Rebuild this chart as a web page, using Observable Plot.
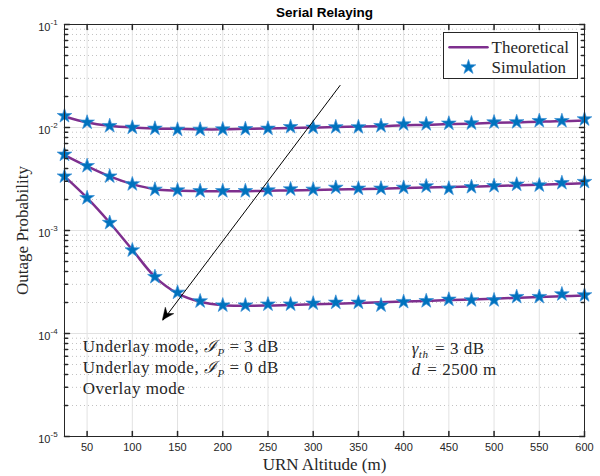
<!DOCTYPE html>
<html><head><meta charset="utf-8">
<script src="https://cdn.jsdelivr.net/npm/d3@7"></script>
<script src="https://cdn.jsdelivr.net/npm/@observablehq/plot@0.6"></script>
<style>body{margin:0;background:#fff} svg{display:block}</style>
</head><body><div id="chart"></div>
<script>
// ---- data ----
const altitude = [25,50,75,100,125,150,175,200,225,250,275,300,325,350,375,400,425,450,475,500,525,550,575,600];
const seriesNames = ["Underlay mode, IP = 3 dB", "Underlay mode, IP = 0 dB", "Overlay mode"];
const simUnderlay3 = [0.01297,0.01120,0.01037,0.01000,0.00978,0.00956,0.00956,0.00962,0.00968,0.00978,0.01014,0.01000,0.01010,0.01010,0.01037,0.01077,0.01080,0.01095,0.01100,0.01125,0.01130,0.01160,0.01160,0.01205];
const simUnderlay0 = [0.00547,0.00424,0.00336,0.00282,0.00250,0.00246,0.00242,0.00242,0.00242,0.00246,0.00252,0.00250,0.00261,0.00256,0.00256,0.00261,0.00269,0.00256,0.00265,0.00271,0.00280,0.00275,0.00290,0.00297];
const simOverlay   = [0.00336,0.00207,0.00119,0.000644,0.000355,0.000250,0.000206,0.000188,0.000188,0.000192,0.000192,0.000196,0.000200,0.000200,0.000188,0.000203,0.000207,0.000214,0.000211,0.000211,0.000227,0.000227,0.000241,0.000236];
const thUnderlay3  = [0.0128,0.0112,0.0104,0.0100,0.0098,0.0097,0.0096,0.0096,0.0097,0.0098,0.0099,0.0100,0.0101,0.0102,0.0103,0.0105,0.0106,0.0108,0.0109,0.0111,0.0112,0.0114,0.0115,0.0117];
const thUnderlay0  = [0.0054,0.0042,0.00335,0.00282,0.00252,0.00244,0.00241,0.00240,0.00241,0.00243,0.00245,0.00247,0.00250,0.00252,0.00255,0.00258,0.00261,0.00264,0.00267,0.00270,0.00274,0.00278,0.00282,0.00287];
const thOverlay    = [0.00335,0.00207,0.00119,0.00065,0.000355,0.000245,0.000203,0.000188,0.000186,0.000187,0.000189,0.000192,0.000195,0.000198,0.000201,0.000204,0.000207,0.000211,0.000214,0.000218,0.000222,0.000226,0.000230,0.000234];
const xTicks = [50,100,150,200,250,300,350,400,450,500,550,600];
const yMajor = [1e-1,1e-2,1e-3,1e-4,1e-5];
const yExponents = ["-1","-2","-3","-4","-5"];
const arrowStart = [330, 0.0258];
const arrowEnd = [133.8, 0.000134];
const legendLabels = ["Theoretical", "Simulation"];

// ---- tables ----
const sims = [simUnderlay3, simUnderlay0, simOverlay];
const ths = [thUnderlay3, thUnderlay0, thOverlay];
const simRows = sims.flatMap((s, k) => s.map((v, i) => ({series: seriesNames[k], x: altitude[i], y: v})));
const thRows = ths.flatMap((s, k) => s.map((v, i) => ({series: seriesNames[k], x: altitude[i], y: v})));
const yMinor = [];
for (let e = -5; e < -1; e++) for (let m = 2; m <= 9; m++) yMinor.push(m * Math.pow(10, e));

const purple = "#7E2F8E", blue = "#0072BD", axisColor = "#262626";
const serif = "'Liberation Serif', 'DejaVu Serif', serif";
const sans = "'Liberation Sans', Arial, sans-serif";
const tickShape = {draw(ctx, l) { ctx.moveTo(0, 0); ctx.lineTo(0, -l); }};

const plot = Plot.plot({
  width: 600, height: 476,
  marginLeft: 64, marginRight: 16, marginTop: 24, marginBottom: 40,
  x: {domain: [25, 600], axis: null},
  y: {type: "log", domain: [1e-5, 1e-1], axis: null},
  style: {background: "white"},
  marks: [
    Plot.ruleY(yMinor, {y: d => d, stroke: "#c2c2c2", strokeDasharray: "1,3", strokeWidth: 1}),
    Plot.ruleX(xTicks, {x: d => d, stroke: "#e2e2e2", strokeWidth: 1}),
    Plot.ruleY(yMajor, {y: d => d, stroke: "#e2e2e2", strokeWidth: 1}),
    Plot.line(thRows, {x: "x", y: "y", z: "series", stroke: purple, strokeWidth: 2.5, curve: "catmull-rom"}),
    Plot.dot(simRows, {x: "x", y: "y", symbol: "star", r: 4.6, fill: blue, stroke: "#3b8fd6", strokeWidth: 0.7}),
    Plot.link([0], {x1: () => arrowStart[0], y1: () => arrowStart[1], x2: () => arrowEnd[0], y2: () => arrowEnd[1], stroke: "black", strokeWidth: 1}),
    // ticks
    Plot.vector(xTicks, {x: d => d, frameAnchor: "bottom", length: 5, rotate: 0, anchor: "start", shape: tickShape, stroke: axisColor}),
    Plot.vector(xTicks, {x: d => d, frameAnchor: "top", length: 5, rotate: 180, anchor: "start", shape: tickShape, stroke: axisColor}),
    Plot.vector(yMajor, {y: d => d, frameAnchor: "left", length: 5, rotate: 90, anchor: "start", shape: tickShape, stroke: axisColor}),
    Plot.vector(yMajor, {y: d => d, frameAnchor: "right", length: 5, rotate: -90, anchor: "start", shape: tickShape, stroke: axisColor}),
    Plot.vector(yMinor, {y: d => d, frameAnchor: "left", length: 3, rotate: 90, anchor: "start", shape: tickShape, stroke: axisColor}),
    Plot.vector(yMinor, {y: d => d, frameAnchor: "right", length: 3, rotate: -90, anchor: "start", shape: tickShape, stroke: axisColor}),
    Plot.frame({stroke: axisColor, strokeWidth: 1}),
    // tick labels
    Plot.text(xTicks, {x: d => d, frameAnchor: "bottom", lineAnchor: "middle", dy: 10.7, text: d => String(d), fontSize: 11, fontFamily: sans, fill: axisColor}),
    Plot.text(yMajor, {y: d => d, frameAnchor: "left", lineAnchor: "middle", dx: -14, dy: 3, textAnchor: "end", text: () => "10", fontSize: 11, fontFamily: sans, fill: axisColor}),
    Plot.text(yMajor, {y: d => d, frameAnchor: "left", lineAnchor: "middle", dx: -14, dy: -2, textAnchor: "start", text: (d, i) => yExponents[i], fontSize: 8, fontFamily: sans, fill: axisColor}),
    // titles
    Plot.text(["Serial Relaying"], {frameAnchor: "top", lineAnchor: "middle", textAnchor: "middle", dy: -11.5, text: d => d, fontSize: 13.5, fontWeight: "bold", fontFamily: sans, fill: "black"}),
    Plot.text(["URN Altitude (m)"], {frameAnchor: "bottom", lineAnchor: "middle", textAnchor: "middle", dy: 28, text: d => d, fontSize: 17, fontFamily: serif, fill: axisColor, style: {letterSpacing: "0.7px"}}),
    Plot.text(["Outage Probability"], {frameAnchor: "left", lineAnchor: "middle", textAnchor: "middle", dx: -42, rotate: -90, text: d => d, fontSize: 17, fontFamily: serif, fill: axisColor}),
    // legend
    Plot.frame({insetLeft: 379, insetRight: 7, insetTop: 8, insetBottom: 358, fill: "white", stroke: axisColor, strokeWidth: 1}),
    Plot.vector([0], {frameAnchor: "top-right", dx: -135, dy: 22.7, length: 38, rotate: 90, anchor: "start", shape: tickShape, stroke: purple, strokeWidth: 2.5}),
    Plot.dot([0], {frameAnchor: "top-right", dx: -116, dy: 42.7, symbol: "star", r: 4.6, fill: blue, stroke: "#3b8fd6", strokeWidth: 0.7}),
    Plot.text([legendLabels[0]], {frameAnchor: "top-right", lineAnchor: "middle", dx: -93, dy: 22.7, textAnchor: "start", text: d => d, fontSize: 17, fontFamily: serif, fill: axisColor}),
    Plot.text([legendLabels[1]], {frameAnchor: "top-right", lineAnchor: "middle", dx: -93, dy: 42.7, textAnchor: "start", text: d => d, fontSize: 17, fontFamily: serif, fill: axisColor})
  ]
});
document.getElementById("chart").appendChild(plot);

const sx = plot.scale("x"), sy = plot.scale("y");
const svg = d3.select(plot);

// ---- filled arrow head at the arrow's end, placed through the plot's scales ----
{
  const x1 = sx.apply(arrowStart[0]), y1 = sy.apply(arrowStart[1]);
  const x2 = sx.apply(arrowEnd[0]), y2 = sy.apply(arrowEnd[1]);
  const a = Math.atan2(y1 - y2, x1 - x2);
  const L = 13, w = 0.42, notch = 8;
  const p = (len, ang) => [x2 + len * Math.cos(a + ang), y2 + len * Math.sin(a + ang)];
  const b1 = p(L, w), b2 = p(L, -w), n = p(notch, 0);
  svg.append("path").attr("d", `M${x2},${y2}L${b1}L${n}L${b2}Z`).attr("fill", "black").attr("stroke", "black").attr("stroke-width", 0.5);
}

// ---- rich-text annotations (subscripts) ----
const ann = svg.append("g").attr("font-family", serif).attr("font-size", 17).attr("fill", axisColor).attr("text-anchor", "start").style("letter-spacing", "0.5px");
const ax = sx.apply(45.6);
const modeY = [7.36e-5, 4.6e-5, 2.88e-5];
function addMode(t, i) {
  const el = ann.append("text").attr("x", ax).attr("y", sy.apply(modeY[i]) + 5);
  if (i < 2) {
    el.append("tspan").text("Underlay mode, ");
    el.append("tspan").attr("font-family", "'DejaVu Serif', serif").attr("font-style", "italic").text("ℐ");
    el.append("tspan").attr("font-size", 11).attr("font-style", "italic").attr("dy", 4).text("P");
    el.append("tspan").attr("dy", -4).text(i === 0 ? " = 3 dB" : " = 0 dB");
  } else {
    el.append("tspan").text(t);
  }
}
seriesNames.forEach(addMode);
const gx = sx.apply(409.4);
const g1 = ann.append("text").attr("x", gx).attr("y", sy.apply(7.0e-5) + 5);
g1.append("tspan").attr("font-style", "italic").text("γ");
g1.append("tspan").attr("font-style", "italic").attr("font-size", 11).attr("dy", 4).text("th");
g1.append("tspan").attr("dy", -4).text("\u200A = 3 dB");
const g2 = ann.append("text").attr("x", gx).attr("y", sy.apply(4.35e-5) + 5);
g2.append("tspan").attr("font-style", "italic").text("d");
g2.append("tspan").text("\u200A = 2500 m");
</script>
</body></html>
